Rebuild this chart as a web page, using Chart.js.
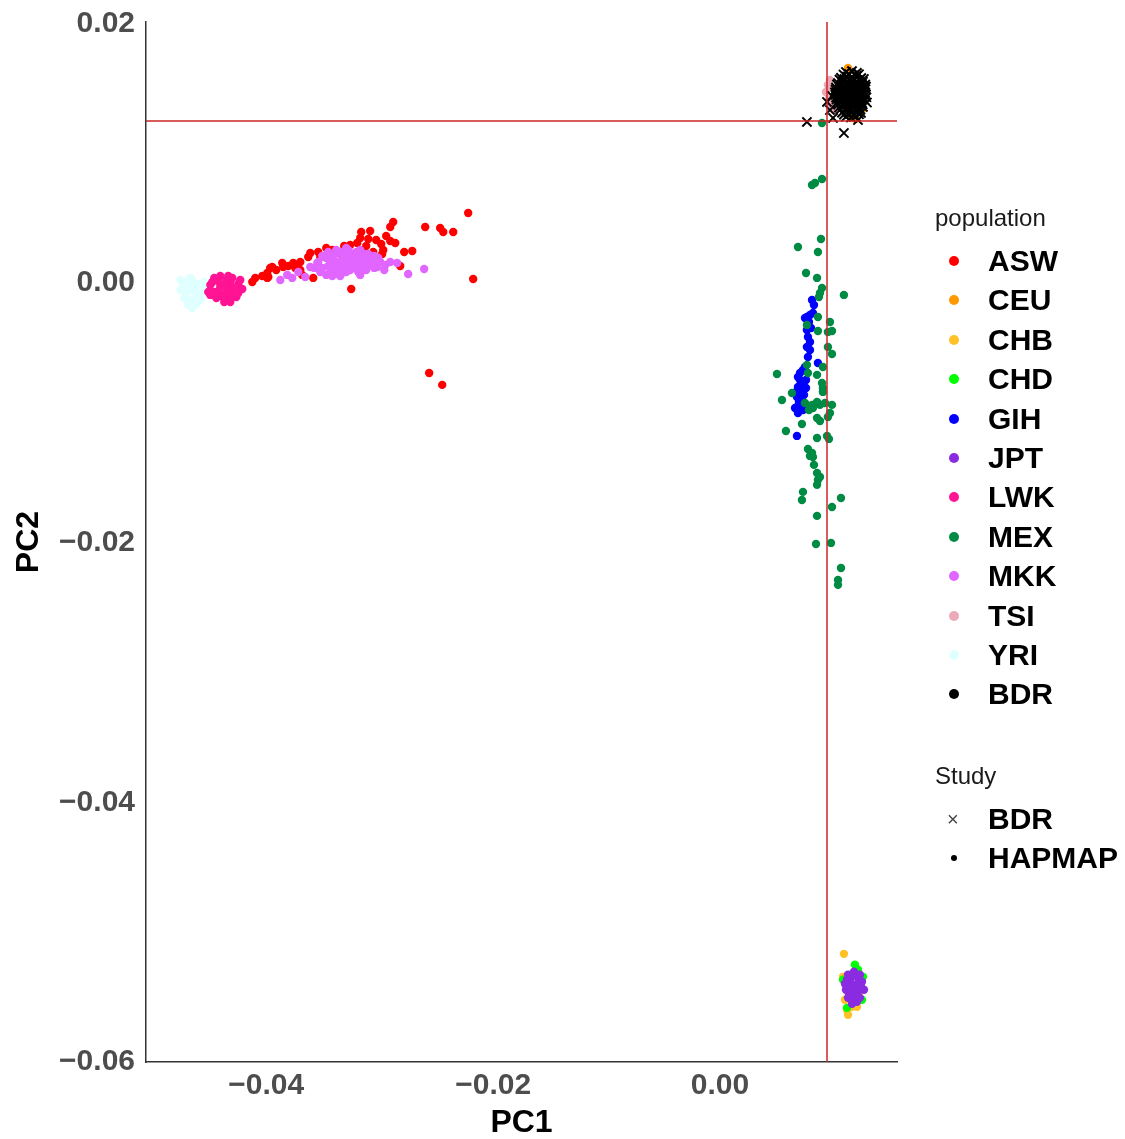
<!DOCTYPE html>
<html>
<head>
<meta charset="utf-8">
<script src="https://cdn.jsdelivr.net/npm/chart.js@4.4.1/dist/chart.umd.min.js"></script>
<style>
  body { margin: 0; background: #fff; font-family: "Liberation Sans", Arial, sans-serif; }
  #wrap { position: relative; width: 1125px; height: 1139px; }
  #legend .item { position: absolute; left: 0; height: 40px; line-height: 40px; white-space: nowrap; }
  #legend .ttl { font-size: 24px; color: #1a1a1a; }
  #legend .lab { position: absolute; left: 53px; top: 0; font-size: 30px; font-weight: bold; color: #000; }
  #legend .sym { position: absolute; left: 14px; top: 15px; width: 10px; height: 10px; border-radius: 50%; }
</style>
</head>
<body>
<div id="wrap">
  <canvas id="myChart" width="1125" height="1139"></canvas>
  <div id="legend" style="position:absolute; left:935px; top:0;"></div>
</div>
<script>
// datos (PC1, PC2)
const populations = ['ASW', 'CEU', 'CHB', 'CHD', 'GIH', 'JPT', 'LWK', 'MEX', 'MKK', 'TSI', 'YRI', 'BDR'];
const colors = ['#FF0000', '#FF9900', '#FFC125', '#00FF00', '#0000FF', '#8A2BE2', '#FF1493', '#008B45', '#E066FF', '#EEA9B8', '#E0FFFF', '#000000'];
const studies = ['BDR', 'HAPMAP'];
// capa de dibujo: primero = encima
const drawOrder = ['BDR', 'JPT', 'CHD', 'CHB', 'MKK', 'ASW', 'LWK', 'YRI', 'MEX', 'GIH', 'TSI', 'CEU'];

const xTicks = [-0.04, -0.02, 0.00];
const yTicks = [-0.06, -0.04, -0.02, 0.00, 0.02];
const xRange = [-0.0506, 0.0156];
const yRange = [-0.06, 0.0201];
const vLine = 0.00943;   // linea vertical roja
const hLine = 0.01248;   // linea horizontal roja

const asw = [
  [-0.02220, 0.00539], [-0.02599, 0.00431], [-0.02467, 0.00424], [-0.02440, 0.00393], [-0.02352, 0.00393],
  [-0.02881, 0.00470], [-0.02907, 0.00431], [-0.03163, 0.00393], [-0.03084, 0.00400], [-0.03101, 0.00339],
  [-0.02907, 0.00323], [-0.02863, 0.00308], [-0.02713, 0.00246], [-0.02987, 0.00300], [-0.02969, 0.00254],
  [-0.03057, 0.00239], [-0.02978, 0.00223], [-0.03260, 0.00293], [-0.03198, 0.00308], [-0.03145, 0.00254],
  [-0.03418, 0.00254], [-0.03409, 0.00231], [-0.03612, 0.00231], [-0.03630, 0.00200], [-0.03524, 0.00200],
  [-0.02819, 0.00131], [-0.02176, 0.00031], [-0.03251, -0.00046], [-0.03762, 0.00154], [-0.03744, 0.00116],
  [-0.03859, 0.00154], [-0.03850, 0.00123], [-0.03947, 0.00123], [-0.03991, 0.00077], [-0.03982, 0.00046],
  [-0.04097, 0.00039], [-0.04123, 0.00008], [-0.03965, 0.00116], [-0.03991, 0.00039], [-0.03586, 0.00039],
  [-0.03683, 0.00062], [-0.02564, -0.00693], [-0.02449, -0.00785], [-0.03348, 0.00231], [-0.03300, 0.00270],
  [-0.04035, 0.00054], [-0.03912, 0.00100], [-0.03806, 0.00131], [-0.03700, 0.00162], [-0.03542, 0.00239],
  [-0.03471, 0.00270], [-0.03313, 0.00285], [-0.03119, 0.00285], [-0.03031, 0.00331], [-0.02943, 0.00362],
  [-0.02784, 0.00239], [-0.03172, 0.00347], [-0.03700, 0.00100]
];
const ceu = [
  [0.01128, 0.01656], [0.01154, 0.01271], [0.01198, 0.01263], [0.01110, 0.01486], [0.01216, 0.01409], [0.01251, 0.01332]
];
const chb = [
  [0.01092, -0.05167], [0.01084, -0.05344], [0.01128, -0.05636], [0.01207, -0.05575],
  [0.01101, -0.05521], [0.01233, -0.05459], [0.01163, -0.05575], [0.01119, -0.05598]
];
const chd = [
  [0.01189, -0.05251], [0.01251, -0.05521], [0.01119, -0.05583], [0.01084, -0.05367], [0.01260, -0.05344], [0.01216, -0.05290]
];
const gih = [
  [0.00811, -0.00131], [0.00828, -0.00169], [0.00766, -0.00262], [0.00793, -0.00246], [0.00819, -0.00231],
  [0.00749, -0.00270], [0.00766, -0.00362], [0.00775, -0.00416], [0.00793, -0.00454], [0.00766, -0.00493],
  [0.00793, -0.00516], [0.00863, -0.00616], [0.00731, -0.00670], [0.00705, -0.00693], [0.00687, -0.00724],
  [0.00749, -0.00647], [0.00722, -0.00770], [0.00687, -0.00801], [0.00705, -0.00839], [0.00678, -0.00878],
  [0.00722, -0.00901], [0.00678, -0.00955], [0.00687, -0.01001], [0.00731, -0.00978], [0.00661, -0.00963],
  [0.00678, -0.01178], [0.00758, -0.00747], [0.00740, -0.00862], [0.00775, -0.00570], [0.00758, -0.00809],
  [0.00705, -0.00747], [0.00670, -0.00839], [0.00740, -0.00809], [0.00696, -0.00916], [0.00714, -0.00963],
  [0.00784, -0.00300], [0.00802, -0.00347]
];
const jpt = [
  [0.01128, -0.05328], [0.01181, -0.05305], [0.01216, -0.05352], [0.01145, -0.05382], [0.01198, -0.05405],
  [0.01251, -0.05382], [0.01110, -0.05444], [0.01163, -0.05459], [0.01216, -0.05459], [0.01269, -0.05444],
  [0.01128, -0.05506], [0.01181, -0.05521], [0.01233, -0.05506], [0.01163, -0.05552], [0.01101, -0.05398],
  [0.01233, -0.05328], [0.01154, -0.05352], [0.01189, -0.05436], [0.01136, -0.05475], [0.01207, -0.05536],
  [0.01242, -0.05421], [0.01119, -0.05367], [0.01172, -0.05405], [0.01225, -0.05390], [0.01145, -0.05429],
  [0.01198, -0.05490]
];
const lwk = [
  [-0.04493, -0.00015], [-0.04458, 0.00039], [-0.04458, -0.00069], [-0.04405, 0.00054], [-0.04405, -0.00023],
  [-0.04405, -0.00100], [-0.04352, 0.00023], [-0.04352, -0.00054], [-0.04352, -0.00131], [-0.04299, 0.00039],
  [-0.04299, -0.00039], [-0.04299, -0.00108], [-0.04246, -0.00008], [-0.04246, -0.00077], [-0.04511, -0.00069],
  [-0.04370, -0.00146], [-0.04211, -0.00046], [-0.04475, 0.00008], [-0.04423, 0.00015], [-0.04423, -0.00062],
  [-0.04370, -0.00015], [-0.04370, -0.00092], [-0.04317, 0.00000], [-0.04317, -0.00077], [-0.04264, -0.00046],
  [-0.04264, -0.00108], [-0.04335, 0.00054], [-0.04440, -0.00116], [-0.04229, 0.00023], [-0.04493, -0.00092],
  [-0.04317, -0.00146]
];
const mex = [
  [0.00899, 0.01232], [0.00811, 0.00755], [0.00837, 0.00770], [0.00899, 0.00801], [0.00890, 0.00339],
  [0.00687, 0.00277], [0.00863, 0.00239], [0.00758, 0.00077], [0.00855, 0.00039], [0.00899, -0.00039],
  [0.00881, -0.00077], [0.00872, -0.00108], [0.01092, -0.00092], [0.00863, -0.00262], [0.00766, -0.00323],
  [0.00969, -0.00300], [0.00987, -0.00370], [0.00951, -0.00377], [0.00863, -0.00370], [0.00951, -0.00493],
  [0.00987, -0.00547], [0.00766, -0.00631], [0.00907, -0.00647], [0.00502, -0.00701], [0.00775, -0.00693],
  [0.00855, -0.00708], [0.00899, -0.00770], [0.00907, -0.00809], [0.00907, -0.00839], [0.00634, -0.00847],
  [0.00546, -0.00901], [0.00749, -0.00924], [0.00855, -0.00916], [0.00881, -0.00939], [0.00925, -0.00924],
  [0.00987, -0.00939], [0.00819, -0.00963], [0.00969, -0.01001], [0.00951, -0.01032], [0.00855, -0.01040],
  [0.00881, -0.01063], [0.00722, -0.01086], [0.00581, -0.01140], [0.00855, -0.01194], [0.00943, -0.01178],
  [0.00960, -0.01201], [0.00775, -0.01278], [0.00811, -0.01309], [0.00819, -0.01340], [0.00793, -0.01332],
  [0.00828, -0.01401], [0.00855, -0.01463], [0.00881, -0.01494], [0.00863, -0.01517], [0.00855, -0.01555],
  [0.00731, -0.01609], [0.00722, -0.01671], [0.01066, -0.01656], [0.00987, -0.01725], [0.00855, -0.01794],
  [0.00846, -0.02010], [0.00978, -0.02002], [0.01066, -0.02195], [0.01040, -0.02287], [0.01040, -0.02325],
  [0.00811, -0.00939], [0.00784, -0.00978]
];
const mkk = [
  [-0.03542, 0.00162], [-0.03506, 0.00116], [-0.03471, 0.00193], [-0.03436, 0.00146], [-0.03436, 0.00085],
  [-0.03401, 0.00216], [-0.03383, 0.00162], [-0.03365, 0.00116], [-0.03348, 0.00239], [-0.03330, 0.00193],
  [-0.03313, 0.00139], [-0.03295, 0.00085], [-0.03277, 0.00254], [-0.03260, 0.00208], [-0.03242, 0.00162],
  [-0.03224, 0.00116], [-0.03207, 0.00239], [-0.03189, 0.00193], [-0.03172, 0.00146], [-0.03154, 0.00100],
  [-0.03136, 0.00223], [-0.03119, 0.00177], [-0.03101, 0.00131], [-0.03084, 0.00208], [-0.03066, 0.00162],
  [-0.03031, 0.00131], [-0.03013, 0.00193], [-0.03401, 0.00100], [-0.03471, 0.00062], [-0.03348, 0.00054],
  [-0.03876, 0.00023], [-0.03815, 0.00062], [-0.03718, 0.00085], [-0.03656, 0.00046], [-0.03612, 0.00123],
  [-0.03550, 0.00154], [-0.03771, 0.00039], [-0.02951, 0.00139], [-0.02907, 0.00162], [-0.02846, 0.00154],
  [-0.02749, 0.00069], [-0.02608, 0.00108], [-0.03022, 0.00123], [-0.03172, 0.00062], [-0.02960, 0.00100],
  [-0.03506, 0.00208], [-0.03454, 0.00239], [-0.03418, 0.00177], [-0.03383, 0.00254], [-0.03348, 0.00146],
  [-0.03313, 0.00208], [-0.03295, 0.00270], [-0.03277, 0.00162], [-0.03260, 0.00100], [-0.03242, 0.00223],
  [-0.03224, 0.00177], [-0.03207, 0.00131], [-0.03189, 0.00085], [-0.03172, 0.00254], [-0.03154, 0.00193],
  [-0.03136, 0.00146], [-0.03119, 0.00100], [-0.03101, 0.00223], [-0.03084, 0.00162], [-0.03048, 0.00208],
  [-0.03048, 0.00116], [-0.02995, 0.00162], [-0.03454, 0.00131], [-0.03418, 0.00054], [-0.03365, 0.00069],
  [-0.03313, 0.00085], [-0.03524, 0.00085], [-0.03577, 0.00116]
];
const tsi = [
  [0.00951, 0.01525], [0.00934, 0.01471], [0.00960, 0.01425], [0.00987, 0.01502], [0.00978, 0.01378],
  [0.01004, 0.01332], [0.00969, 0.01563]
];
const yri = [
  [-0.04757, -0.00054], [-0.04705, 0.00008], [-0.04705, -0.00085], [-0.04652, 0.00023], [-0.04652, -0.00054],
  [-0.04652, -0.00131], [-0.04599, -0.00008], [-0.04599, -0.00085], [-0.04555, -0.00039], [-0.04687, -0.00169],
  [-0.04652, -0.00193], [-0.04581, -0.00131], [-0.04731, -0.00023], [-0.04678, -0.00023], [-0.04625, -0.00023],
  [-0.04572, -0.00085], [-0.04625, -0.00116], [-0.04722, -0.00116], [-0.04678, -0.00131], [-0.04616, -0.00162],
  [-0.04546, 0.00008], [-0.04757, 0.00023], [-0.04669, 0.00039]
];
const bdr = [
  [0.01110, 0.01625], [0.01163, 0.01632], [0.01207, 0.01618],
  [0.01066, 0.01580], [0.01119, 0.01590], [0.01163, 0.01584], [0.01207, 0.01594], [0.01245, 0.01578],
  [0.01040, 0.01540], [0.01084, 0.01552], [0.01128, 0.01545], [0.01172, 0.01555], [0.01216, 0.01543], [0.01260, 0.01550],
  [0.01022, 0.01505], [0.01066, 0.01512], [0.01110, 0.01502], [0.01154, 0.01515], [0.01198, 0.01508], [0.01242, 0.01500], [0.01286, 0.01512],
  [0.01013, 0.01468], [0.01057, 0.01476], [0.01101, 0.01465], [0.01145, 0.01474], [0.01189, 0.01470], [0.01233, 0.01478], [0.01277, 0.01466],
  [0.01022, 0.01428], [0.01066, 0.01436], [0.01110, 0.01430], [0.01154, 0.01438], [0.01198, 0.01426], [0.01242, 0.01434], [0.01290, 0.01430],
  [0.01031, 0.01390], [0.01075, 0.01398], [0.01119, 0.01392], [0.01163, 0.01386], [0.01207, 0.01396], [0.01251, 0.01390],
  [0.01048, 0.01350], [0.01092, 0.01358], [0.01136, 0.01352], [0.01181, 0.01360], [0.01225, 0.01348], [0.01260, 0.01356],
  [0.01075, 0.01312], [0.01119, 0.01320], [0.01163, 0.01314], [0.01207, 0.01322], [0.01242, 0.01310],
  [0.01110, 0.01280], [0.01154, 0.01274], [0.01198, 0.01282],
  [0.01088, 0.01606], [0.01136, 0.01610], [0.01185, 0.01603], [0.01225, 0.01608],
  [0.01053, 0.01567], [0.01097, 0.01570], [0.01141, 0.01563], [0.01185, 0.01569], [0.01229, 0.01565], [0.01268, 0.01571],
  [0.01031, 0.01529], [0.01075, 0.01532], [0.01119, 0.01526], [0.01163, 0.01531], [0.01207, 0.01527], [0.01251, 0.01533], [0.01280, 0.01528],
  [0.01018, 0.01490], [0.01062, 0.01487], [0.01106, 0.01493], [0.01150, 0.01489], [0.01194, 0.01491], [0.01238, 0.01486], [0.01282, 0.01492],
  [0.01018, 0.01451], [0.01062, 0.01455], [0.01106, 0.01449], [0.01150, 0.01453], [0.01194, 0.01450], [0.01238, 0.01456], [0.01284, 0.01451],
  [0.01027, 0.01413], [0.01071, 0.01411], [0.01115, 0.01415], [0.01159, 0.01410], [0.01203, 0.01414], [0.01247, 0.01412], [0.01275, 0.01409],
  [0.01040, 0.01374], [0.01084, 0.01377], [0.01128, 0.01371], [0.01172, 0.01375], [0.01216, 0.01373], [0.01258, 0.01376],
  [0.01062, 0.01336], [0.01106, 0.01339], [0.01150, 0.01334], [0.01194, 0.01338], [0.01238, 0.01335],
  [0.01092, 0.01297], [0.01136, 0.01300], [0.01181, 0.01295], [0.01225, 0.01299],
  [0.00766, 0.01240], [0.01092, 0.01155], [0.00943, 0.01394], [0.00996, 0.01271], [0.01216, 0.01255],
  [0.00969, 0.01332], [0.00987, 0.01440], [0.01295, 0.01390]
];
const popData = { ASW: asw, CEU: ceu, CHB: chb, CHD: chd, GIH: gih, JPT: jpt, LWK: lwk, MEX: mex, MKK: mkk, TSI: tsi, YRI: yri, BDR: bdr };

const fontFam = '"Liberation Sans", Arial, sans-serif';
const fmt = v => (v < 0 ? '\u2212' : '') + Math.abs(v).toFixed(2);

const datasets = populations.map((p, i) => ({
  label: p,
  data: popData[p].map(d => ({ x: d[0], y: d[1] })),
  pointStyle: p === 'BDR' ? 'crossRot' : 'circle',
  pointRadius: p === 'BDR' ? 6.5 : 4.2,
  borderWidth: p === 'BDR' ? 2 : 0,
  borderColor: colors[i],
  backgroundColor: colors[i],
  order: drawOrder.indexOf(p) + 1
}));

// lineas de referencia
datasets.push({
  data: [{ x: vLine, y: yRange[0] }, { x: vLine, y: yRange[1] }],
  showLine: true, pointRadius: 0, borderColor: '#CD2626', borderWidth: 1.5, order: 0
});
datasets.push({
  data: [{ x: xRange[0], y: hLine }, { x: xRange[1], y: hLine }],
  showLine: true, pointRadius: 0, borderColor: '#CD2626', borderWidth: 1.5, order: 0
});

const tickFont = { family: fontFam, size: 30, weight: 'bold' };
const titleFont = { family: fontFam, size: 32, weight: 'bold', lineHeight: 1 };

new Chart(document.getElementById('myChart'), {
  type: 'scatter',
  data: { datasets: datasets },
  options: {
    responsive: false,
    animation: false,
    layout: { padding: { top: 22, right: 228, bottom: 0, left: 0 } },
    plugins: { legend: { display: false }, tooltip: { enabled: false } },
    scales: {
      x: {
        type: 'linear', min: xRange[0], max: xRange[1],
        grid: { display: false, drawTicks: false },
        border: { display: true, color: '#333333', width: 1.5 },
        ticks: { padding: 6, color: '#4D4D4D', font: tickFont, callback: v => fmt(v) },
        afterBuildTicks: s => { s.ticks = xTicks.map(v => ({ value: v })); },
        afterFit: s => { s.height = 77; },
        title: { display: true, text: 'PC1', color: '#000', font: titleFont, padding: { top: 0, bottom: 0 } }
      },
      y: {
        type: 'linear', min: yRange[0], max: yRange[1],
        grid: { display: false, drawTicks: false },
        border: { display: true, color: '#333333', width: 1.5 },
        ticks: { padding: 11, color: '#4D4D4D', font: tickFont, callback: v => fmt(v) },
        afterBuildTicks: s => { s.ticks = yTicks.map(v => ({ value: v })); },
        afterFit: s => { s.width = 146; s.paddingTop = 0; s.paddingBottom = 0; },
        title: { display: true, text: 'PC2', color: '#000', font: titleFont, padding: { top: 13, bottom: 0 } }
      }
    }
  }
});

// leyenda (dos grupos: population y Study)
const legend = document.getElementById('legend');
function addItem(top, html) {
  const d = document.createElement('div');
  d.className = 'item';
  d.style.top = (top - 20) + 'px';
  d.innerHTML = html;
  legend.appendChild(d);
}
addItem(218, '<span class="ttl">population</span>');
populations.forEach((p, i) => {
  addItem(261 + i * 39.4, '<span class="sym" style="background:' + colors[i] + '"></span><span class="lab">' + p + '</span>');
});
addItem(776, '<span class="ttl">Study</span>');
addItem(819, '<span style="position:absolute;left:12px;top:0;font-size:20px;color:#444;">\u00d7</span><span class="lab">' + studies[0] + '</span>');
addItem(858, '<span class="sym" style="background:#000;left:16px;top:17px;width:6px;height:6px;"></span><span class="lab">' + studies[1] + '</span>');
</script>
</body>
</html>
